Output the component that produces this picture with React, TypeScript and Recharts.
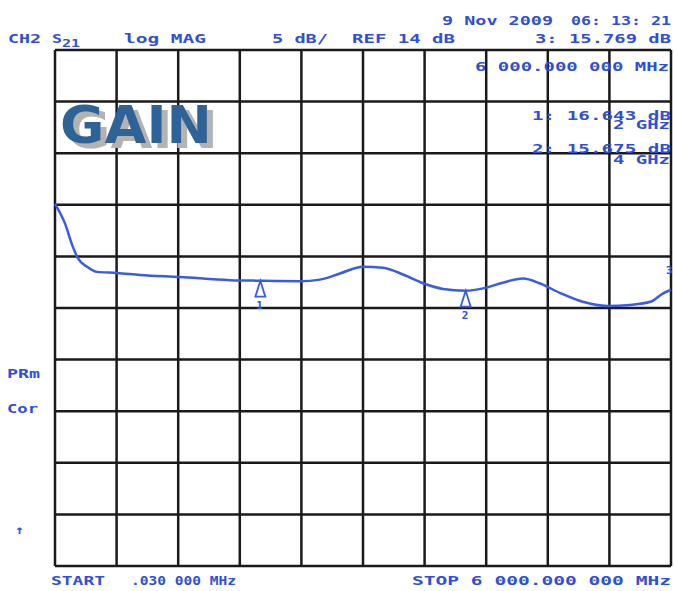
import { LineChart, Line, XAxis, YAxis, CartesianGrid, ReferenceDot } from 'recharts';

// S21 gain trace (GHz, dB)
const freqGHz = [
  0.00003, 0.097, 0.175, 0.224, 0.312, 0.409, 0.604, 0.828, 1.218, 1.705, 2.0, 2.386, 2.58,
  2.776, 3.0, 3.195, 3.39, 3.585, 3.78, 4.0, 4.17, 4.36, 4.56, 4.72, 4.92, 5.14, 5.38, 5.6,
  5.8, 5.92, 6.0,
];
const gainDb = [
  24.1, 22.2, 19.9, 18.8, 18.0, 17.5, 17.4, 17.2, 17.0, 16.7, 16.643, 16.6, 16.75,
  17.35, 18.0, 17.9, 17.25, 16.4, 15.85, 15.675, 15.9, 16.45, 16.85, 16.4, 15.45, 14.6, 14.2, 14.3,
  14.6, 15.4, 15.769,
];

// markers
const markerFreq = [2, 4, 6];
const markerGain = [16.643, 15.675, 15.769];
const markerName = ['1', '2', '3'];

// 10 divisions each way, 5 dB/div, REF 14 dB at the centre line
const xTicks = [0, 0.6, 1.2, 1.8, 2.4, 3.0, 3.6, 4.2, 4.8, 5.4, 6.0];
const yTicks = [-11, -6, -1, 4, 9, 14, 19, 24, 29, 34, 39];

const data = freqGHz.map((f, i) => ({ f, db: gainDb[i] }));

const BLUE = '#2f4fd8';
const TRACE = '#3a5ce2';

const markerShape = (name: string) => (props: any) => {
  const { cx, cy } = props;
  if (name === '3') {
    return (
      <text x={cx - 5} y={cy - 16} fill={BLUE} fontSize={11} fontWeight="bold" fontFamily="DejaVu Sans Mono">
        {name}
      </text>
    );
  }
  return (
    <g>
      <path d={`M${cx},${cy} L${cx - 5},${cy + 16} L${cx + 5},${cy + 16} Z`} fill="#fff" stroke={TRACE} strokeWidth={1.8} />
      <text x={cx - 4} y={cy + 28} fill={BLUE} fontSize={11} fontWeight="bold" fontFamily="DejaVu Sans Mono">
        {name}
      </text>
    </g>
  );
};

function Label({ x, y, w, size = 12, children }: any) {
  return (
    <text
      x={x}
      y={y}
      textLength={w}
      lengthAdjust="spacingAndGlyphs"
      fill={BLUE}
      fontSize={size}
      fontWeight="bold"
      fontFamily="DejaVu Sans Mono"
    >
      {children}
    </text>
  );
}

export default function App() {
  return (
    <div style={{ position: 'absolute', left: 0, top: 0, width: 674, height: 591, background: '#fff' }}>
      <LineChart width={674} height={591} data={data} margin={{ top: 50, right: 3, bottom: 25, left: 55 }}>
        <CartesianGrid stroke="#1a1a1a" strokeWidth={2.5} />
        <XAxis type="number" dataKey="f" domain={[0, 6]} ticks={xTicks} hide />
        <YAxis type="number" domain={[-11, 39]} ticks={yTicks} hide />
        <Line
          type="monotone"
          dataKey="db"
          stroke={TRACE}
          strokeWidth={2.5}
          dot={false}
          isAnimationActive={false}
        />
        {markerFreq.map((f, i) => (
          <ReferenceDot key={i} x={f} y={markerGain[i]} r={0} shape={markerShape(markerName[i])} />
        ))}
      </LineChart>

      <svg width={674} height={591} style={{ position: 'absolute', left: 0, top: 0, pointerEvents: 'none' }}>
        <defs>
          <filter id="gainShadow" x="-10%" y="-10%" width="130%" height="140%">
            <feDropShadow dx={6} dy={5} stdDeviation={0} floodColor="#b3b3b3" floodOpacity={1} />
          </filter>
        </defs>
        <Label x={442} y={25} w={111}>9 Nov 2009</Label>
        <Label x={571} y={25} w={100}>06: 13: 21</Label>
        <Label x={8} y={43} w={33}>CH2</Label>
        <Label x={52} y={43} w={10}>S</Label>
        <Label x={62} y={47} w={18} size={10}>21</Label>
        <Label x={124} y={43} w={82}>log MAG</Label>
        <Label x={272} y={43} w={56}>5 dB/</Label>
        <Label x={352} y={43} w={103}>REF 14 dB</Label>
        <Label x={535} y={43} w={136}>3: 15.769 dB</Label>
        <Label x={475} y={71} w={194}>6 000.000 000 MHz</Label>
        <Label x={532} y={120} w={139}>1: 16.643 dB</Label>
        <Label x={613} y={129} w={57}>2 GHz</Label>
        <Label x={532} y={153} w={139}>2: 15.675 dB</Label>
        <Label x={613} y={164} w={57}>4 GHz</Label>
        <Label x={7} y={378} w={33}>PRm</Label>
        <Label x={7} y={413} w={31}>Cor</Label>
        <Label x={15} y={534} w={9}>↑</Label>
        <Label x={51} y={585} w={54}>START</Label>
        <Label x={131} y={585} w={105}>.030 000 MHz</Label>
        <Label x={412} y={585} w={259}>STOP 6 000.000 000 MHz</Label>

        <text
          x={60}
          y={143}
          textLength={152}
          lengthAdjust="spacingAndGlyphs"
          fill="#2f6497"
          fontSize={52}
          fontWeight="bold"
          fontFamily="DejaVu Sans"
          filter="url(#gainShadow)"
        >
          GAIN
        </text>
      </svg>
    </div>
  );
}
